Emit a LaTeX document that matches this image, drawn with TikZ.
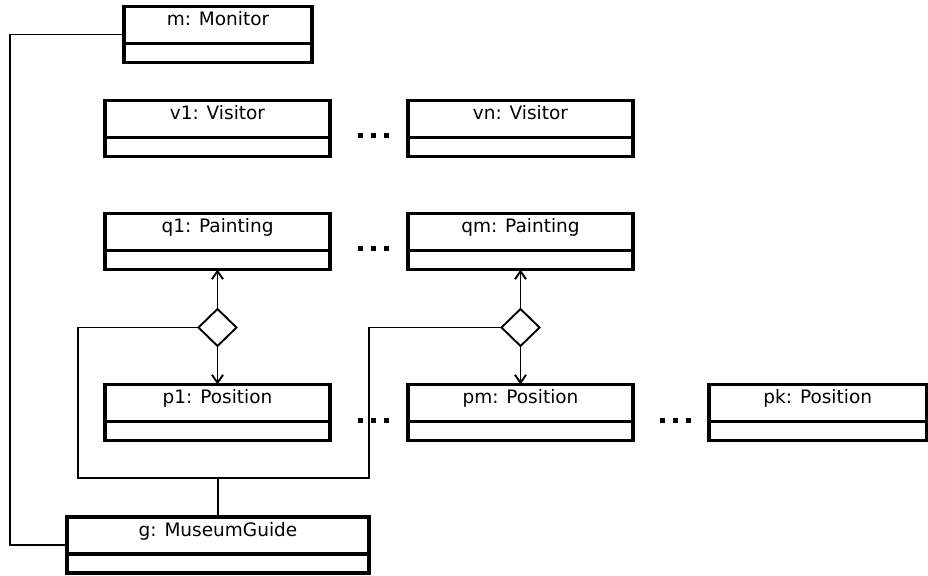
\documentclass[tikz,border=0pt]{standalone}
\usepackage{fontspec}
\setmainfont{DejaVu Sans}
\usetikzlibrary{shapes.geometric,arrows.meta,calc}

\tikzset{
  objbox/.style={draw, line width=3.4pt, rectangle, inner sep=0pt, outer sep=0pt, minimum height=56pt},
  objname/.style={anchor=base, inner sep=0pt, font=\fontsize{18.5}{20}\selectfont},
  link/.style={line width=1.9pt},
  nav/.style={link, -{Straight Barb[length=8pt,width=11pt,line width=1.9pt]}},
  choice/.style={draw, diamond, line width=1.9pt, inner sep=0pt, outer sep=0pt,
                 minimum width=38pt, minimum height=37pt},
  dotmark/.style={fill, rectangle, minimum size=5pt, inner sep=0pt},
}

% object box: name, centre x, top y, width, title
\newcommand\umlobject[5]{%
  \node[objbox, minimum width=#4pt, anchor=north] (#1) at (#2,#3) {};
  \draw[line width=3.4pt] ($(#1.north west)+(0,37)$) -- ($(#1.north east)+(0,37)$);
  \node[objname] (#1-name) at ($(#1.north)+(0,19)$) {#5};
}

\begin{document}
\begin{tikzpicture}[x=1pt,y=-1pt]
  \useasboundingbox (0,0) rectangle (928,575);

  % objects
  \umlobject{mon}{218}{6.5}{188}{m: Monitor}
  \umlobject{v1}{217.5}{100.5}{225}{v1: Visitor}
  \umlobject{vn}{520.5}{100.5}{225}{vn: Visitor}
  \umlobject{q1}{217.5}{213.5}{225}{q1: Painting}
  \umlobject{qm}{520.5}{213.5}{225}{qm: Painting}
  \umlobject{p1}{217.5}{384.5}{225}{p1: Position}
  \umlobject{pm}{520.5}{384.5}{225}{pm: Position}
  \umlobject{pk}{817.75}{384.5}{217.5}{pk: Position}
  \umlobject{mg}{218}{517}{302}{g: MuseumGuide}

  % ellipsis markers between repeated objects
  \foreach \yy/\nm in {135.5/a, 248.5/b, 420/c} {
    \foreach \xx [count=\i] in {360,373,386} {
      \node[dotmark] (dot-\nm-\i) at (\xx,\yy) {};
    }
  }
  \foreach \xx [count=\i] in {662.5,675.5,688.5} {
    \node[dotmark] (dot-d-\i) at (\xx,420) {};
  }

  % association diamonds
  \node[choice] (d1) at (217.5,327.5) {};
  \node[choice] (d2) at (520.5,327.5) {};

  \draw[nav] (d1.north) -- (q1.south);
  \draw[nav] (d1.south) -- (p1.north);
  \draw[nav] (d2.north) -- (qm.south);
  \draw[nav] (d2.south) -- (pm.north);

  % links to the guide
  \coordinate (busL) at (78,478);
  \coordinate (busR) at (369,478);
  \coordinate (rail) at (10,0);
  \draw[link] (d1.west) -| (busL) -- (busR) |- (d2.west);
  \draw[link] (mg.north) -- (mg.north |- busL);
  \draw[link] (mon.west) -| (rail |- mg.west) -- (mg.west);
\end{tikzpicture}
\end{document}
